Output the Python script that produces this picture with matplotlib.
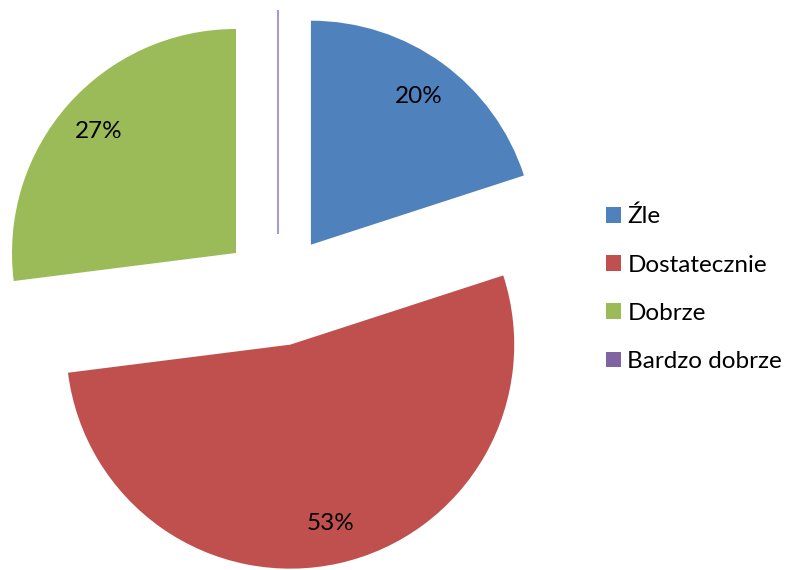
import matplotlib
matplotlib.use("Agg")
import matplotlib.pyplot as plt
from matplotlib.patches import Patch

categories = ["Źle", "Dostatecznie", "Dobrze", "Bardzo dobrze"]
values = [20, 53, 27, 0]
colors = ["#4F81BD", "#C0504D", "#9BBB59", "#8064A2"]

plt.rcParams['font.family'] = ['Lato', 'DejaVu Sans']

W, H = 785, 570
fig = plt.figure(figsize=(W / 100, H / 100), dpi=100)
ax = fig.add_axes([0, 0, 1, 1])

def fmt(p):
    return f"{p:.0f}%" if p > 0.5 else ""

wedges, texts, autotexts = ax.pie(
    values, colors=colors, startangle=90, counterclock=False,
    explode=[0.25] * len(values), autopct=fmt, pctdistance=0.82,
    textprops=dict(fontsize=17.5, color="#000000"),
)
wedges[3].set_edgecolor("#ad9acb")
wedges[3].set_linewidth(1.5)

R = 224.0
cx, cy = 278.0, 290.0
ax.set_aspect('auto')
ax.set_xlim(-cx / R, (W - cx) / R)
ax.set_ylim(-(H - cy) / R, cy / R)
ax.axis('off')

handles = [Patch(facecolor=c, edgecolor='none') for c in colors]
fig.legend(handles, categories, loc='center left', bbox_to_anchor=(606 / W, 1 - 289 / H),
           frameon=False, fontsize=17.5, handlelength=0.62, handleheight=0.62,
           handletextpad=0.26, labelspacing=1.12, borderaxespad=0, borderpad=0)

fig.savefig("out.png", dpi=100)
